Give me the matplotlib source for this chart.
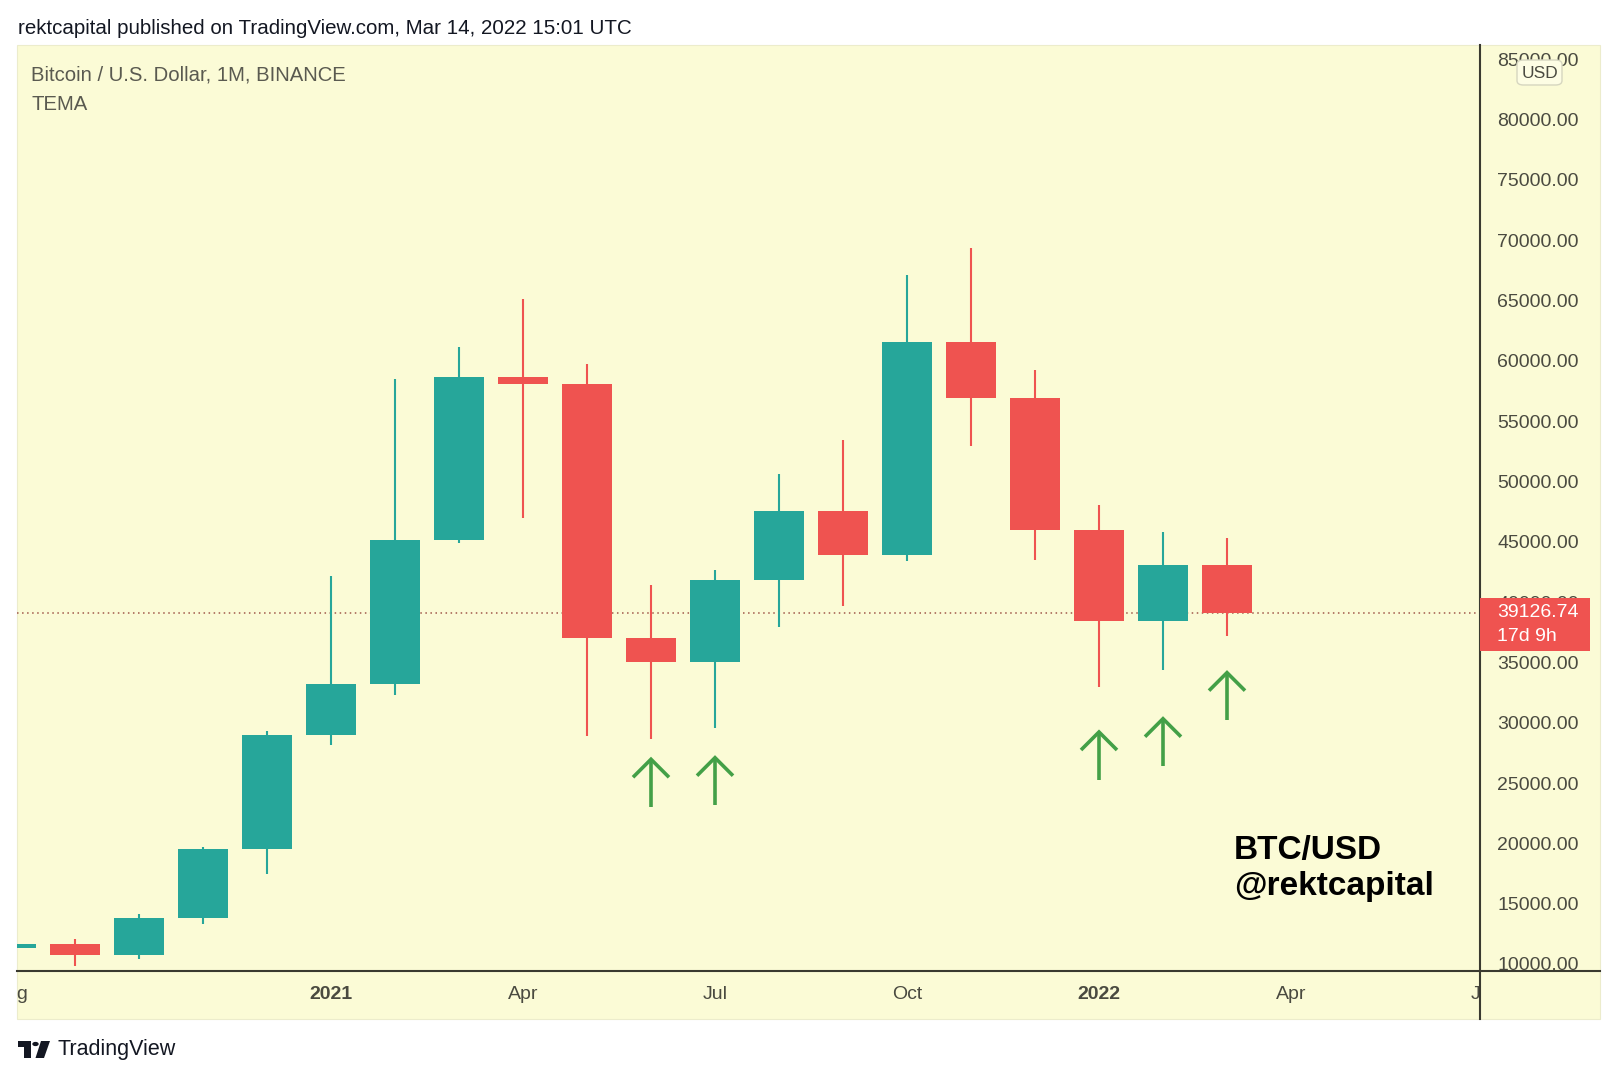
import matplotlib.pyplot as plt
import numpy as np
from matplotlib.patches import Rectangle, FancyBboxPatch, Polygon, Circle
from matplotlib.lines import Line2D

plt.rcParams["font.family"] = ["Liberation Sans", "DejaVu Sans"]

# ---------------------------------------------------------------- data
months = ["2020-08", "2020-09", "2020-10", "2020-11", "2020-12",
          "2021-01", "2021-02", "2021-03", "2021-04", "2021-05",
          "2021-06", "2021-07", "2021-08", "2021-09", "2021-10",
          "2021-11", "2021-12", "2022-01", "2022-02", "2022-03"]
opens = [11350, 11650, 10780, 13840, 19560, 28950, 33220, 45170, 58650, 58100,
         37060, 35040, 41860, 47560, 43890, 61560, 56950, 45950, 38430, 43100]
highs = [12450, 12100, 14180, 19730, 29290, 42180, 58490, 61140, 65150, 59770,
         41390, 42690, 50640, 53450, 67110, 69330, 59260, 48070, 45800, 45340]
lows = [11150, 9850, 10430, 13330, 17500, 28150, 32280, 44920, 46940, 28870,
        28640, 29530, 37920, 39710, 43380, 52940, 43470, 32970, 34350, 37190]
closes = [11650, 10780, 13840, 19560, 28950, 33220, 45170, 58660, 58100, 37060,
          35040, 41860, 47560, 43890, 61560, 56950, 45950, 38430, 43100, 39126.74]

last_price = 39126.74
countdown = "17d 9h"

ytick_values = list(range(10000, 85001, 5000))
xtick_months = ["2020-08", "2021-01", "2021-04", "2021-07", "2021-10",
                "2022-01", "2022-04", "2022-07"]
xtick_labels = ["Aug", "2021", "Apr", "Jul", "Oct", "2022", "Apr", "Jul"]

arrow_months = ["2021-06", "2021-07", "2022-01", "2022-02", "2022-03"]
arrow_tips = [26970, 27100, 29230, 30330, 34150]

# ---------------------------------------------------------------- style
W, H = 1617, 1080
yellow = "#fbfbd6"
green = "#26a69a"
red = "#ef5350"
arrow_green = "#43a047"
axis_col = "#3a3a30"
label_col = "#4a4a40"


def fx(x):
    return x / W


def fy(y):
    return 1 - y / H


def month_index(m):
    y, mo = m.split("-")
    return (int(y) - 2021) * 12 + int(mo) - 1


fig = plt.figure(figsize=(W / 100, H / 100), dpi=100, facecolor="white")

# yellow chart background (plot area + both scales)
fig.add_artist(Rectangle((fx(16.5), fy(1019)), fx(1600) - fx(16.5), fy(45) - fy(1019),
                         transform=fig.transFigure, facecolor=yellow,
                         edgecolor="#ececcc", lw=0.8, zorder=-1))

ax = fig.add_axes([fx(16.5), fy(971), (1480 - 16.5) / W, (971 - 45) / H])
ax.set_facecolor("none")
for s in ax.spines.values():
    s.set_visible(False)

# pixel scale of the price axis: 10000 at y=964, 80000 at y=119.5
k = (964 - 119.5) / 70000
ax.set_ylim(10000 - (971 - 964) / k, 10000 + (964 - 45) / k)
ax.set_xlim((16.5 - 331) / 64, (1480 - 331) / 64)

ax.set_xticks([])
ax.yaxis.tick_right()
ax.set_yticks(ytick_values)
ax.set_yticklabels([f"{v:.2f}" for v in ytick_values])
ax.tick_params(axis="y", length=0, pad=12.5, labelsize=14, labelcolor=label_col)

# candles
idx = np.array([month_index(m) for m in months])
o = np.array(opens)
c = np.array(closes)
colors = np.where(c >= o, green, red)
ax.vlines(idx, lows, highs, colors=colors, lw=1.5, zorder=2)
ax.bar(idx, np.abs(c - o), bottom=np.minimum(o, c), width=0.766,
       color=colors, linewidth=0, zorder=3)

# last price dotted line
ax.axhline(last_price, color="#a0584a", lw=1.1, ls=(0, (1, 2.3)), zorder=1)

# green arrows
arrow_len = 47.5 / k
head_dx = 18 / 64
head_dy = 18 / k
for m, tip in zip(arrow_months, arrow_tips):
    xi = month_index(m)
    ax.plot([xi, xi], [tip - arrow_len, tip], color=arrow_green, lw=2.6,
            solid_capstyle="butt", zorder=4)
    ax.plot([xi - head_dx, xi, xi + head_dx], [tip - head_dy, tip, tip - head_dy],
            color=arrow_green, lw=2.6, solid_capstyle="butt",
            solid_joinstyle="miter", zorder=4)

# time scale band
tax = fig.add_axes([fx(16.5), fy(1019), (1480 - 16.5) / W, (1019 - 971) / H], sharex=ax)
tax.axis("off")
tax.set_ylim(0, 1)
for m, lab in zip(xtick_months, xtick_labels):
    tax.text(month_index(m), 0.52, lab, ha="center", va="center", fontsize=14,
             color=label_col, fontweight="bold" if lab.isdigit() else "normal",
             clip_on=True)

# scale borders
fig.add_artist(Line2D([fx(1480), fx(1480)], [fy(45), fy(1019)], color=axis_col,
                      lw=1.5, transform=fig.transFigure, zorder=4))
fig.add_artist(Line2D([fx(16.5), fx(1600)], [fy(971), fy(971)], color=axis_col,
                      lw=1.5, transform=fig.transFigure, zorder=4))

# last price label
py = H - ax.transData.transform((0, last_price))[1]
fig.add_artist(Rectangle((fx(1480), fy(py + 38.5)), fx(1590) - fx(1480), 53 / H,
                         transform=fig.transFigure, facecolor=red, lw=0, zorder=5))
fig.text(fx(1497), fy(py), f"{last_price:.2f}", ha="left", va="center",
         fontsize=14, color="white", zorder=6)
fig.text(fx(1497), fy(py + 24), countdown, ha="left", va="center",
         fontsize=14, color="white", zorder=6)

# USD badge
fig.add_artist(FancyBboxPatch((fx(1517), fy(85)), fx(1562) - fx(1517), 25 / H,
                              boxstyle="round,pad=0,rounding_size=0.004",
                              transform=fig.transFigure, facecolor="#fdfde4",
                              edgecolor="#d6d6c0", lw=1, zorder=5))
fig.text(fx(1539.5), fy(73), "USD", ha="center", va="center", fontsize=12.5,
         color=label_col, zorder=6)

# texts
fig.text(fx(17.5), fy(29), "rektcapital published on TradingView.com, Mar 14, 2022 15:01 UTC",
         ha="left", va="center", fontsize=14.8, color="#131722")
fig.text(fx(31), fy(75), "Bitcoin / U.S. Dollar, 1M, BINANCE", ha="left", va="center",
         fontsize=14.6, color="#5a5a50")
fig.text(fx(31), fy(104), "TEMA", ha="left", va="center", fontsize=14.6, color="#5a5a50")
fig.text(fx(1234), fy(851), "BTC/USD", ha="left", va="center", fontsize=24,
         fontweight="bold", color="black")
fig.text(fx(1234), fy(886), "@rektcapital", ha="left", va="center", fontsize=24,
         fontweight="bold", color="black")

# TradingView logo
logo = "#131722"
fig.add_artist(Rectangle((fx(17.5), fy(1046.5)), (31 - 17.5) / W, 5.5 / H,
                         transform=fig.transFigure, facecolor=logo, lw=0))
fig.add_artist(Rectangle((fx(24), fy(1058)), 7 / W, 17 / H,
                         transform=fig.transFigure, facecolor=logo, lw=0))
fig.add_artist(Polygon([(fx(41), fy(1041)), (fx(50), fy(1041)), (fx(44), fy(1058)),
                        (fx(35.5), fy(1058))], closed=True,
                       transform=fig.transFigure, facecolor=logo, lw=0))
fig.add_artist(Circle((fx(35.5), fy(1044)), 3.2 / W, transform=fig.transFigure,
                      facecolor=logo, lw=0))
fig.text(fx(57), fy(1049.5), "TradingView", ha="left", va="center", fontsize=15.5,
         color=logo)

fig.savefig("out.png", dpi=100, facecolor="white")
